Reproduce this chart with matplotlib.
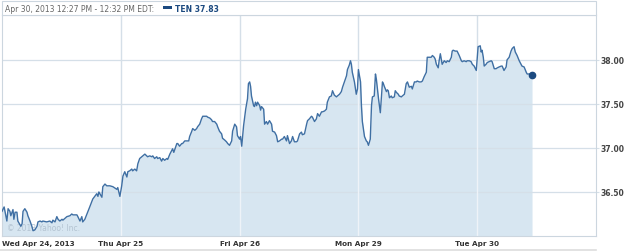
import numpy as np
import matplotlib.pyplot as plt
from matplotlib.patches import Rectangle
from matplotlib.lines import Line2D

# TEN intraday, 5 sessions; minutes after the 9:30 open and price
day_labels = ["Wed Apr 24, 2013", "Thu Apr 25", "Fri Apr 26", "Mon Apr 29", "Tue Apr 30"]
ytick_vals = [36.5, 37.0, 37.5, 38.0]

wed_min = [0, 7, 16, 20, 26, 29, 36, 39, 43, 49, 52, 62, 66, 69, 75, 82, 85, 92, 98, 102,
           108, 115, 118, 125, 131, 134, 147, 157, 164, 167, 174, 180, 184, 190, 197, 200,
           213, 223, 229, 233, 246, 249, 256, 262, 265, 272, 279, 288, 298, 311, 315, 318,
           328, 331, 338, 344, 354, 364, 377, 380, 387]
wed_px = [36.28, 36.33, 36.17, 36.31, 36.28, 36.23, 36.30, 36.19, 36.27, 36.27, 36.17,
          36.11, 36.14, 36.28, 36.31, 36.27, 36.23, 36.17, 36.11, 36.06, 36.07, 36.11,
          36.16, 36.17, 36.16, 36.17, 36.16, 36.17, 36.15, 36.18, 36.16, 36.22, 36.19,
          36.17, 36.19, 36.18, 36.22, 36.23, 36.25, 36.24, 36.24, 36.22, 36.17, 36.22,
          36.16, 36.19, 36.25, 36.33, 36.42, 36.48, 36.45, 36.50, 36.44, 36.56, 36.59,
          36.57, 36.57, 36.56, 36.53, 36.55, 36.45]

thu_min = [3, 7, 13, 20, 23, 29, 36, 39, 46, 52, 56, 62, 69, 72, 79, 85, 88, 95, 102, 105,
           111, 118, 121, 128, 134, 138, 144, 151, 154, 161, 167, 170, 174, 180, 184, 187,
           193, 200, 203, 210, 216, 223, 226, 233, 236, 243, 249, 252, 259, 265, 269, 275,
           282, 285, 292, 298, 301, 308, 315, 318, 324, 331, 334, 341, 347, 351, 357, 364,
           367, 374, 380, 383, 390]
thu_px = [36.57, 36.68, 36.73, 36.67, 36.73, 36.74, 36.76, 36.74, 36.76, 36.74, 36.82,
          36.88, 36.90, 36.91, 36.93, 36.91, 36.90, 36.91, 36.90, 36.91, 36.88, 36.90,
          36.88, 36.89, 36.85, 36.88, 36.86, 36.88, 36.87, 36.93, 36.97, 36.99, 36.95,
          37.01, 37.05, 37.05, 37.02, 37.05, 37.05, 37.08, 37.08, 37.08, 37.13, 37.19,
          37.22, 37.20, 37.22, 37.24, 37.27, 37.33, 37.36, 37.36, 37.36, 37.35, 37.34,
          37.32, 37.30, 37.30, 37.27, 37.24, 37.19, 37.16, 37.11, 37.09, 37.07, 37.05,
          37.03, 37.08, 37.19, 37.27, 37.24, 37.14, 37.10]

fri_min = [3, 7, 13, 20, 26, 29, 33, 36, 39, 46, 49, 52, 56, 59, 66, 69, 72, 79, 82, 88,
           92, 98, 105, 108, 115, 121, 125, 131, 138, 141, 147, 154, 157, 164, 170, 174,
           180, 187, 190, 197, 203, 206, 213, 220, 223, 229, 236, 239, 246, 252, 256, 262,
           269, 272, 279, 285, 288, 295, 301, 305, 311, 318, 321, 328, 334, 338, 344, 351,
           354, 360, 364, 367, 370, 377, 383, 387]
fri_px = [37.13, 37.02, 37.25, 37.44, 37.56, 37.73, 37.75, 37.70, 37.59, 37.48, 37.47,
          37.52, 37.48, 37.52, 37.48, 37.43, 37.47, 37.44, 37.27, 37.30, 37.27, 37.31,
          37.27, 37.19, 37.18, 37.14, 37.07, 37.08, 37.10, 37.10, 37.13, 37.08, 37.14,
          37.05, 37.08, 37.13, 37.07, 37.07, 37.08, 37.16, 37.18, 37.15, 37.16, 37.27,
          37.31, 37.33, 37.36, 37.35, 37.30, 37.33, 37.39, 37.36, 37.41, 37.41, 37.42,
          37.44, 37.52, 37.58, 37.59, 37.65, 37.60, 37.58, 37.59, 37.61, 37.64, 37.69,
          37.75, 37.82, 37.89, 37.94, 37.99, 37.95, 37.86, 37.75, 37.61, 37.67]

mon_min = [0, 7, 10, 13, 20, 26, 29, 33, 39, 43, 46, 52, 56, 59, 66, 72, 79, 82, 85, 92,
           95, 98, 102, 108, 111, 118, 121, 125, 131, 134, 141, 144, 151, 157, 161, 167,
           174, 177, 184, 190, 193, 200, 206, 210, 216, 223, 226, 233, 239, 243, 249, 252,
           256, 262, 265, 269, 272, 275, 282, 288, 292, 298, 305, 308, 311, 318, 324, 331,
           338, 341, 347, 354, 357, 364, 370, 374, 380, 387]
mon_px = [37.89, 37.75, 37.48, 37.30, 37.13, 37.08, 37.07, 37.03, 37.10, 37.48, 37.58,
          37.59, 37.84, 37.78, 37.56, 37.40, 37.75, 37.73, 37.70, 37.64, 37.66, 37.65,
          37.57, 37.59, 37.57, 37.58, 37.65, 37.63, 37.61, 37.59, 37.58, 37.59, 37.61,
          37.73, 37.75, 37.69, 37.70, 37.67, 37.75, 37.75, 37.76, 37.75, 37.75, 37.76,
          37.81, 37.86, 38.03, 38.03, 38.03, 38.05, 38.03, 38.01, 37.95, 37.91, 37.99,
          38.07, 38.01, 37.95, 37.99, 37.97, 37.99, 37.98, 38.03, 38.10, 38.11, 38.10,
          38.10, 38.05, 37.99, 37.98, 37.99, 37.98, 37.99, 37.99, 37.98, 37.95, 37.93,
          37.88]

tue_min = [3, 10, 13, 16, 20, 23, 29, 33, 39, 46, 49, 56, 62, 66, 72, 79, 82, 88, 95, 98,
           105, 111, 115, 121, 125, 128, 131, 138, 144, 147, 154, 161, 164, 170, 180]
tue_px = [38.15, 38.16, 38.09, 38.11, 38.03, 37.93, 37.95, 37.97, 37.98, 37.99, 37.98,
          37.90, 37.90, 37.91, 37.92, 37.93, 37.93, 37.88, 37.92, 38.00, 38.03, 38.10,
          38.13, 38.15, 38.09, 38.07, 38.05, 37.99, 37.95, 37.93, 37.92, 37.86, 37.84,
          37.84, 37.83]

sessions = [(wed_min, wed_px), (thu_min, thu_px), (fri_min, fri_px),
            (mon_min, mon_px), (tue_min, tue_px)]
t = np.concatenate([d + np.array(m) / 390.0 for d, (m, p) in enumerate(sessions)])
price = np.concatenate([np.array(p) for m, p in sessions])

W, H = 625, 253
fig = plt.figure(figsize=(W / 100, H / 100), dpi=100)
ax = fig.add_axes([2 / W, 1 - 237 / H, 594 / W, 221 / H])

line_c = "#3f6fa3"
fill_c = "#d7e6f1"
grid_c = "#d5dfe8"
border_c = "#ccd6df"

# gray day lines behind, lighter copies on top of the filled area
for d in range(1, 5):
    ax.axvline(d, color=grid_c, lw=1.0, zorder=0.5)
area = ax.fill_between(t, price, 36.0, color=fill_c, lw=0, zorder=1)
area_path = area.get_paths()[0]
for yv in ytick_vals:
    ax.axhline(yv, color=grid_c, lw=0.9, zorder=2)
for d in range(1, 5):
    vl = ax.axvline(d, color="#eef3f8", lw=1.0, zorder=2.5)
    vl.set_clip_path(area_path, area.get_transform())
ax.plot(t, price, color=line_c, lw=1.0, zorder=3)
ax.plot(t[-1], price[-1], "o", color="#1c4a80", ms=4.5, zorder=4)

ax.set_xlim(0, 5)
ax.set_ylim(36.0, 38.51)

ax.yaxis.tick_right()
ax.set_yticks(ytick_vals)
ax.set_yticklabels(["%.2f" % v for v in ytick_vals], fontsize=5.5, fontweight="bold", color="#444444")
ax.tick_params(axis="y", length=2, color=grid_c, pad=1.5)

ax.set_xticks(range(5))
ax.set_xticklabels(day_labels, fontsize=5.2, fontweight="bold", color="#333333")
ax.get_xticklabels()[0].set_ha("left")
ax.tick_params(axis="x", length=0, pad=3)

for s in ax.spines.values():
    s.set_color(border_c)
    s.set_linewidth(0.8)

ax.text(0.008, 0.025, "\u00a9 2013 Yahoo! Inc.", transform=ax.transAxes,
        fontsize=5.5, color="#b4c4d2", zorder=2)

# header bar
fig.add_artist(Rectangle((2 / W, 1 - 16 / H), 594 / W, 14 / H, transform=fig.transFigure,
                         facecolor="white", edgecolor=border_c, lw=0.8))
fig.text(5 / W, 1 - 9 / H, "Apr 30, 2013 12:27 PM - 12:32 PM EDT:", fontsize=5.5,
         color="#666666", va="center")
fig.add_artist(Rectangle((163 / W, 1 - 10 / H), 9 / W, 3 / H, transform=fig.transFigure,
                         facecolor="#1c4a80", lw=0))
fig.text(175 / W, 1 - 9 / H, "TEN 37.83", fontsize=5.5, fontweight="bold",
         color="#1c4a80", va="center")

fig.add_artist(Line2D([0, 596 / W], [1 - 251 / H, 1 - 251 / H], transform=fig.transFigure,
                      color="#dddddd", lw=1.2))

fig.savefig("out.png", dpi=100)
